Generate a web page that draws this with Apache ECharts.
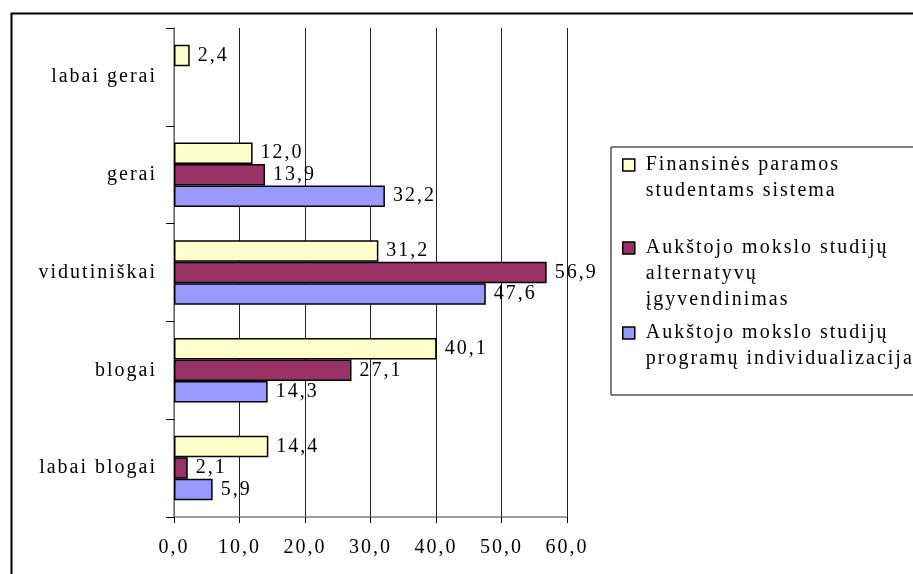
<!DOCTYPE html>
<html>
<head>
<meta charset="utf-8">
<script src="https://cdn.jsdelivr.net/npm/echarts@6/dist/echarts.min.js"></script>
<style>
  html, body { margin: 0; padding: 0; background: #fff; }
  #chart { width: 913px; height: 574px; }
</style>
</head>
<body>
<div id="chart"></div>
<script>
// ---- data ----
const categories = ['labai blogai', 'blogai', 'vidutiniškai', 'gerai', 'labai gerai'];
const seriesNames = [
  'Finansinės paramos studentams sistema',
  'Aukštojo mokslo studijų alternatyvų įgyvendinimas',
  'Aukštojo mokslo studijų programų individualizacija'
];
const legendLines = [
  ['Finansinės paramos', 'studentams sistema'],
  ['Aukštojo mokslo studijų', 'alternatyvų', 'įgyvendinimas'],
  ['Aukštojo mokslo studijų', 'programų individualizacija']
];
const finansines = [14.4, 40.1, 31.2, 12.0, 2.4];
const alternatyvu = [2.1, 27.1, 56.9, 13.9, null];
const individualizacija = [5.9, 14.3, 47.6, 32.2, null];
const xTicks = [0, 10, 20, 30, 40, 50, 60];
const colors = ['#FFFFCC', '#993366', '#9999FF'];

// ---- chart ----
const FONT = 'Liberation Serif';
const FS = 20;
const fmt = v => Number(v).toFixed(1).replace('.', ',');

// widen character spacing like the reference (canvas text style only)
(function () {
  const proto = CanvasRenderingContext2D.prototype;
  if (!('letterSpacing' in proto)) return;
  const orig = proto.fillText;
  proto.fillText = function () {
    this.letterSpacing = '2px';
    return orig.apply(this, arguments);
  };
})();

const chart = echarts.init(document.getElementById('chart'), null, { renderer: 'canvas' });

const values = [finansines, alternatyvu, individualizacija];
const series = values.map((vals, i) => ({
  name: seriesNames[i],
  type: 'bar',
  data: vals,
  barGap: '0%',
  barCategoryGap: '34%',
  itemStyle: { color: colors[i], borderColor: '#000', borderWidth: 1.5 },
  label: {
    show: true, position: 'right', distance: 8,
    formatter: p => fmt(p.value),
    fontFamily: FONT, fontSize: FS, color: '#000'
  },
  emphasis: { disabled: true },
  animation: false
}));

const L = 26;
const iconCenters = [165, 248, 333];
const legends = legendLines.map((lines, i) => {
  const n = lines.length;
  return {
    show: true,
    data: [seriesNames[i]],
    left: 622,
    top: iconCenters[i] - (2 * n - 1) * L / 2,
    padding: 0,
    itemWidth: 12,
    itemHeight: 12,
    icon: 'rect',
    selectedMode: false,
    itemStyle: { borderColor: '#000', borderWidth: 1.5 },
    formatter: () => '\n'.repeat(n - 1) + lines.join('\n'),
    textStyle: {
      fontFamily: FONT, fontSize: FS, color: '#000',
      lineHeight: L, padding: [0, 0, 0, 6]
    }
  };
});

chart.setOption({
  backgroundColor: '#fff',
  animation: false,
  grid: { left: 174, right: 346, top: 28, bottom: 57, containLabel: false },
  xAxis: {
    type: 'value', min: xTicks[0], max: xTicks[xTicks.length - 1], interval: 10,
    axisLine: { show: true, lineStyle: { color: '#808080', width: 1.5 } },
    axisTick: { show: true, length: 6, lineStyle: { color: '#000' } },
    splitLine: { show: true, lineStyle: { color: '#222', width: 1 } },
    axisLabel: { formatter: fmt, fontFamily: FONT, fontSize: FS, color: '#000', margin: 21 }
  },
  yAxis: {
    type: 'category', data: categories,
    axisLine: { show: true, lineStyle: { color: '#808080', width: 1.5 } },
    axisTick: { show: true, length: 8, lineStyle: { color: '#000' } },
    axisLabel: { fontFamily: FONT, fontSize: FS, color: '#000', margin: 17 }
  },
  legend: legends,
  graphic: [
    { type: 'rect', left: 9, top: 11, shape: { x: 0, y: 0, width: 1000, height: 700 },
      style: { fill: 'none', stroke: '#000', lineWidth: 2 }, silent: true, z: -1 },
    { type: 'rect', shape: { x: 611, y: 147, width: 400, height: 248 },
      style: { fill: 'none', stroke: '#000', lineWidth: 1 }, silent: true }
  ],
  series: series
});
</script>
</body>
</html>
